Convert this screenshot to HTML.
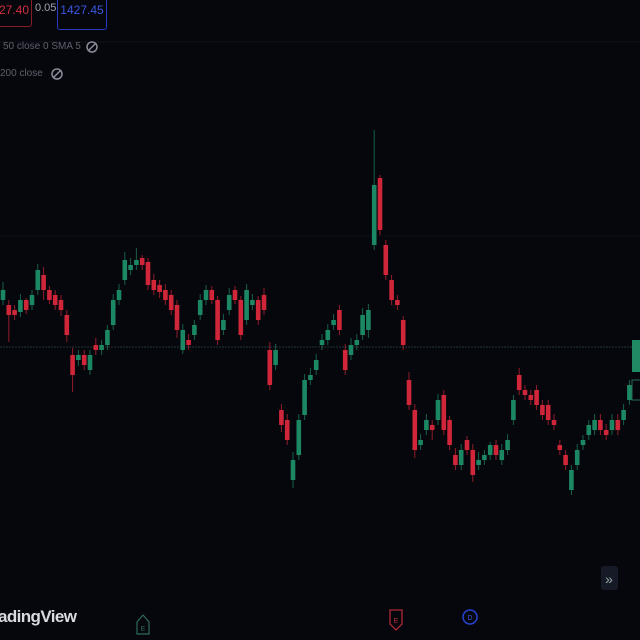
<!DOCTYPE html>
<html><head><meta charset="utf-8"><style>
html,body{margin:0;padding:0;background:#06060d;width:640px;height:640px;overflow:hidden;font-family:"Liberation Sans",sans-serif}
#wrap{position:relative;width:640px;height:640px}
.t{position:absolute;white-space:nowrap}
</style></head><body>
<div id="wrap">
<svg id="chart" width="640" height="640" style="position:absolute;left:0;top:0">
  <line x1="0" y1="42" x2="640" y2="42" stroke="#11121c" stroke-width="1"/>
  <line x1="0" y1="236" x2="640" y2="236" stroke="#0e0f18" stroke-width="1"/>
  <line x1="0" y1="347" x2="640" y2="347" stroke="#1f3536" stroke-width="1" stroke-dasharray="2,1"/>
  <g id="candles"></g>
  <rect x="632" y="340" width="10" height="32" fill="#1f8a63"/>
  <rect x="632" y="380" width="10" height="20" fill="none" stroke="#2a6a5a"/>
  <rect x="601" y="566" width="17" height="24" rx="3" fill="#161a26"/>
  <text x="609" y="584" font-size="14" fill="#9aa" text-anchor="middle" font-family="Liberation Sans">»</text>
  <path d="M137 622 L143 615 L149 622 L149 634 L137 634 Z" fill="none" stroke="#2d6a5c" stroke-width="1.2"/>
  <text x="143" y="631" font-size="7" fill="#2d6a5c" text-anchor="middle">E</text>
  <path d="M390 610 L402 610 L402 624 L396 630 L390 624 Z" fill="none" stroke="#b02a36" stroke-width="1.3"/>
  <text x="396" y="623" font-size="7" fill="#c03040" text-anchor="middle">E</text>
  <circle cx="470" cy="617" r="7" fill="none" stroke="#2444d0" stroke-width="1.5"/>
  <text x="470" y="620" font-size="7" fill="#3556e0" text-anchor="middle">D</text>
  <circle cx="92" cy="47" r="5" fill="none" stroke="#8a8d99" stroke-width="1.5"/>
  <line x1="88" y1="51" x2="96" y2="43" stroke="#8a8d99" stroke-width="1.5"/>
  <circle cx="57" cy="74" r="5" fill="none" stroke="#8a8d99" stroke-width="1.5"/>
  <line x1="53" y1="78" x2="61" y2="70" stroke="#8a8d99" stroke-width="1.5"/>
</svg>
<div class="t" style="left:-10px;top:-3px;width:38px;height:28px;border:1px solid #8a1c28;border-radius:3px;color:#d03040;font-size:12px;line-height:24px;text-align:right;padding-right:2px">27.40</div>
<div class="t" style="left:35px;top:2px;color:#a0a4b0;font-size:11px">0.05</div>
<div class="t" style="left:57px;top:-3px;width:48px;height:31px;border:1px solid #2a3cc0;border-radius:3px;color:#3a58e0;font-size:12px;line-height:24px;text-align:center">1427.45</div>
<div class="t" style="left:3px;top:41px;color:#5e616c;font-size:10px">50 close 0 SMA 5</div>
<div class="t" style="left:0px;top:68px;color:#5e616c;font-size:10px">200 close</div>
<div class="t" style="left:-2px;top:607px;color:#d8dae0;font-size:17px;font-weight:bold;letter-spacing:-0.6px">adingView</div>
</div>
<script>
const opens=[300,295,290,288,300,295,310,325,310,305,300,285,245,240,245,230,255,250,255,275,300,320,330,335,342,338,320,315,310,305,295,250,260,265,285,300,310,300,270,290,310,300,280,295,300,305,250,235,190,180,120,145,185,220,230,255,260,275,290,250,245,255,265,270,355,422,355,320,300,280,220,190,155,170,175,180,205,180,145,135,160,150,135,140,145,155,140,150,180,225,210,205,210,195,195,180,155,145,110,135,155,165,170,180,170,170,180,180,200];
const closes=[310,285,285,300,290,305,330,310,300,295,290,265,225,245,235,245,250,255,270,300,310,340,335,340,335,315,310,308,300,290,270,270,255,275,300,310,300,260,280,305,300,265,310,300,280,290,215,250,175,160,140,180,220,225,240,260,270,280,270,230,255,260,285,290,415,370,325,300,295,255,195,150,160,180,170,200,170,155,135,150,150,125,140,145,155,145,150,160,200,210,205,200,195,185,180,175,150,135,130,150,160,175,180,170,165,180,170,190,215];
const highs=[318,300,295,306,302,310,336,333,314,310,305,290,252,250,250,250,262,260,275,306,316,348,342,352,345,342,326,320,316,310,300,276,266,280,306,315,314,304,286,312,314,304,316,306,304,312,258,256,196,186,148,186,226,232,246,266,276,286,295,256,262,266,292,296,470,425,360,325,305,284,228,196,166,186,180,206,210,184,152,156,164,156,148,150,158,160,156,166,205,232,215,210,215,200,200,186,160,150,135,156,165,180,186,186,176,186,186,196,220];
const lows=[295,258,280,283,286,290,305,300,296,290,284,258,208,234,230,225,245,245,250,270,295,315,325,330,330,310,305,302,295,285,262,246,250,260,280,295,296,255,265,285,296,260,275,290,275,285,210,230,168,155,112,140,180,215,225,250,255,270,265,225,240,250,260,262,350,365,320,295,290,250,190,142,150,165,160,175,165,150,130,130,145,118,130,135,140,140,135,145,175,205,200,195,190,180,175,170,145,130,105,130,150,160,165,165,160,165,165,175,195];
const priceMin=0, priceMax=600, plotTop=0, plotBottom=600;
function yScale(p){return plotBottom-(p-priceMin)/(priceMax-priceMin)*(plotBottom-plotTop);}
const x0=3, step=5.8;
function xScale(i){return x0+i*step;}
const g=document.getElementById('candles');
const NS='http://www.w3.org/2000/svg';
for(let i=0;i<opens.length;i++){
  const up=closes[i]>=opens[i];
  const col=up?'#1c8763':'#cf2639';
  const x=xScale(i);
  const w=document.createElementNS(NS,'line');
  w.setAttribute('x1',x);w.setAttribute('x2',x);
  w.setAttribute('y1',yScale(highs[i]));w.setAttribute('y2',yScale(lows[i]));
  w.setAttribute('stroke',col);w.setAttribute('stroke-width','1');w.setAttribute('opacity','0.7');
  
  
  g.appendChild(w);
  const r=document.createElementNS(NS,'rect');
  const yt=yScale(Math.max(opens[i],closes[i])), yb=yScale(Math.min(opens[i],closes[i]));
  r.setAttribute('x',x-2.3);r.setAttribute('width',4.6);
  r.setAttribute('y',yt);r.setAttribute('height',Math.max(3,yb-yt));
  r.setAttribute('fill',col);
  
  
  g.appendChild(r);
}
</script>
</body></html>
